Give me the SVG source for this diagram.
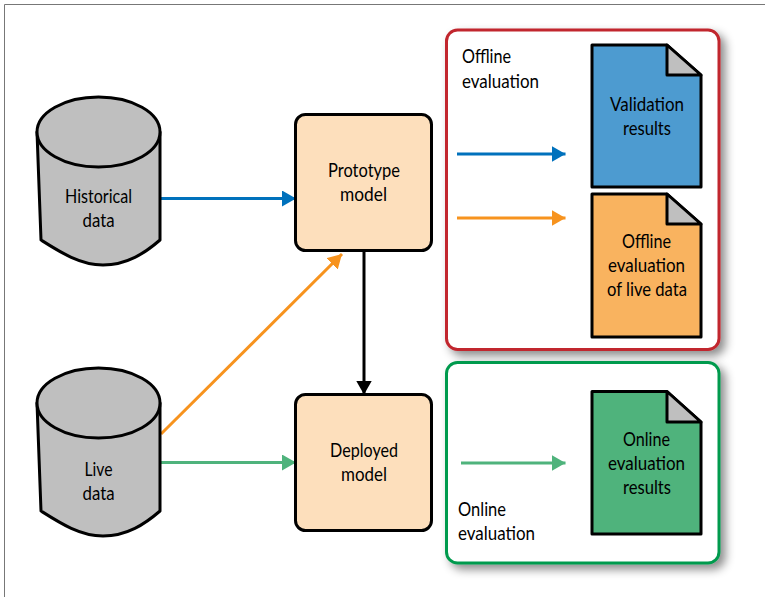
<svg xmlns="http://www.w3.org/2000/svg" width="765" height="597" viewBox="0 0 765 597">
<style>
text{font-family:Lato,"Noto Sans","Liberation Sans",sans-serif;font-size:20px;fill:#000}
.cyl{fill:#bfbfbf;stroke:#000;stroke-width:3;stroke-linejoin:round}
.box{fill:#fddfbc;stroke:#000;stroke-width:3}
.doc{stroke:#000;stroke-width:3;stroke-linejoin:round}
.fold{fill:#bfbfbf;stroke:#000;stroke-width:3;stroke-linejoin:round}
.panel{fill:#fff;stroke-width:3;filter:url(#sh)}
.ln{fill:none;stroke-width:3}
</style>
<defs>
<filter id="sh" x="-15%" y="-15%" width="135%" height="135%"><feDropShadow dx="5" dy="5" stdDeviation="5" flood-color="#000" flood-opacity="0.45"/></filter>
<marker id="ab" markerUnits="userSpaceOnUse" markerWidth="14" markerHeight="16" refX="14" refY="8" orient="auto"><path d="M0 0L14 8L0 16Z" fill="#0071bc"/></marker>
<marker id="ao" markerUnits="userSpaceOnUse" markerWidth="14" markerHeight="16" refX="14" refY="8" orient="auto"><path d="M0 0L14 8L0 16Z" fill="#f7931e"/></marker>
<marker id="ag" markerUnits="userSpaceOnUse" markerWidth="14" markerHeight="16" refX="14" refY="8" orient="auto"><path d="M0 0L14 8L0 16Z" fill="#4fb37c"/></marker>
<marker id="ak" markerUnits="userSpaceOnUse" markerWidth="14" markerHeight="16" refX="14" refY="8" orient="auto"><path d="M0 0L14 8L0 16Z" fill="#000"/></marker>
</defs>
<rect width="765" height="597" fill="#fff"/>
<path d="M4.5 597V4.5H765" fill="none" stroke="#777" stroke-width="1"/>

<g id="panel-offline">
<rect class="panel" x="446.5" y="30" width="272.5" height="319.5" rx="11" stroke="#c1272d"/>
<text x="462" y="63" textLength="49" lengthAdjust="spacingAndGlyphs">Offline</text>
<text x="462" y="88" textLength="77" lengthAdjust="spacingAndGlyphs">evaluation</text>
</g>
<g id="panel-online">
<rect class="panel" x="446.5" y="362.5" width="272.5" height="200.5" rx="11" stroke="#009a4e"/>
<text x="458" y="516" textLength="48" lengthAdjust="spacingAndGlyphs">Online</text>
<text x="458" y="540" textLength="77" lengthAdjust="spacingAndGlyphs">evaluation</text>
</g>

<g id="connectors">
<path class="ln" stroke="#0071bc" d="M161 198.5H296" marker-end="url(#ab)"/>
<path class="ln" stroke="#f7931e" d="M161 434L342 254" marker-end="url(#ao)"/>
<path class="ln" stroke="#4fb37c" d="M161 462.500H296" marker-end="url(#ag)"/>
<path class="ln" stroke="#000" d="M364 251V394.500" marker-end="url(#ak)"/>
<path class="ln" stroke="#0071bc" d="M457 154H565.500" marker-end="url(#ab)"/>
<path class="ln" stroke="#f7931e" d="M457 218H565.500" marker-end="url(#ao)"/>
<path class="ln" stroke="#4fb37c" d="M461 463H565.500" marker-end="url(#ag)"/>
</g>

<g id="historical-data">
<path class="cyl" d="M37 132L41 240C60 252 80 265 103 265C127 265 145 253 160 240V132Z"/>
<ellipse class="cyl" cx="98.500" cy="132" rx="61.500" ry="35"/>
<text x="65" y="203" textLength="67" lengthAdjust="spacingAndGlyphs">Historical</text>
<text x="82.500" y="227" textLength="32" lengthAdjust="spacingAndGlyphs">data</text>
</g>
<g id="live-data">
<path class="cyl" d="M37 403L41 511C60 523 80 536 103 536C127 536 145 524 160 511V403Z"/>
<ellipse class="cyl" cx="98.500" cy="403" rx="61.500" ry="35"/>
<text x="84.500" y="476" textLength="28" lengthAdjust="spacingAndGlyphs">Live</text>
<text x="82.500" y="500" textLength="32" lengthAdjust="spacingAndGlyphs">data</text>
</g>
<g id="prototype-model">
<rect class="box" x="295.500" y="114.500" width="136" height="136" rx="10"/>
<text x="328" y="177" textLength="72" lengthAdjust="spacingAndGlyphs">Prototype</text>
<text x="340" y="201" textLength="47" lengthAdjust="spacingAndGlyphs">model</text>
</g>
<g id="deployed-model">
<rect class="box" x="295.500" y="394.500" width="136" height="136" rx="10"/>
<text x="330" y="457" textLength="68" lengthAdjust="spacingAndGlyphs">Deployed</text>
<text x="341" y="481" textLength="46" lengthAdjust="spacingAndGlyphs">model</text>
</g>
<g id="validation-results">
<path class="doc" fill="#4d9bd0" d="M592 45H667L701 75V187H592Z"/>
<path class="fold" d="M667 45V75H701Z"/>
<text x="610" y="111" textLength="74" lengthAdjust="spacingAndGlyphs">Validation</text>
<text x="623" y="135" textLength="48" lengthAdjust="spacingAndGlyphs">results</text>
</g>
<g id="offline-evaluation-of-live-data">
<path class="doc" fill="#f9b35f" d="M592 194H667L701 224V337H592Z"/>
<path class="fold" d="M667 194V224H701Z"/>
<text x="622" y="248" textLength="49" lengthAdjust="spacingAndGlyphs">Offline</text>
<text x="608" y="272" textLength="77" lengthAdjust="spacingAndGlyphs">evaluation</text>
<text x="607" y="296" textLength="80" lengthAdjust="spacingAndGlyphs">of live data</text>
</g>
<g id="online-evaluation-results">
<path class="doc" fill="#4fb37c" d="M592 391.500H667L701 422V534H592Z"/>
<path class="fold" d="M667 391.500V422H701Z"/>
<text x="623" y="446" textLength="47" lengthAdjust="spacingAndGlyphs">Online</text>
<text x="608" y="470" textLength="77" lengthAdjust="spacingAndGlyphs">evaluation</text>
<text x="623" y="494" textLength="48" lengthAdjust="spacingAndGlyphs">results</text>
</g>
</svg>
